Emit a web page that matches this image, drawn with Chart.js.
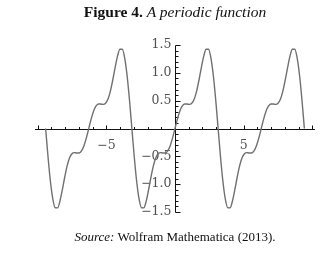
<!DOCTYPE html>
<html><head><meta charset="utf-8">
<script src="https://cdn.jsdelivr.net/npm/chart.js@4/dist/chart.umd.min.js"></script>
<style>
html,body{margin:0;padding:0;background:#fff;width:335px;height:255px;overflow:hidden}
#wrap{position:relative;width:335px;height:255px}
canvas{position:absolute;left:0;top:0}
.t{position:absolute;white-space:nowrap;font-family:"Liberation Serif",serif;color:#111;transform:translateX(-50%);line-height:1}
</style></head><body>
<div id="wrap">
<canvas id="c" width="335" height="255"></canvas>
<div class="t" style="left:175px;top:4px;font-size:15.5px"><b>Figure 4.</b> <i>A periodic function</i></div>
<div class="t" style="left:175px;top:230px;font-size:13px"><i>Source:</i> Wolfram Mathematica (2013).</div>
</div>
<script>
// x sample positions (radians)
const xValues = [
-9.425,-9.250,-9.076,-8.901,-8.727,-8.552,-8.378,-8.203,-8.029,-7.854,-7.679,-7.505,-7.330,-7.156,-6.981,-6.807,-6.632,-6.458,
-6.283,-6.109,-5.934,-5.760,-5.585,-5.411,-5.236,-5.061,-4.887,-4.712,-4.538,-4.363,-4.189,-4.014,-3.840,-3.665,-3.491,-3.316,
-3.142,-2.967,-2.793,-2.618,-2.443,-2.269,-2.094,-1.920,-1.745,-1.571,-1.396,-1.222,-1.047,-0.873,-0.698,-0.524,-0.349,-0.175,
0,0.175,0.349,0.524,0.698,0.873,1.047,1.222,1.396,1.571,1.745,1.920,2.094,2.269,2.443,2.618,2.793,2.967,
3.142,3.316,3.491,3.665,3.840,4.014,4.189,4.363,4.538,4.712,4.887,5.061,5.236,5.411,5.585,5.760,5.934,6.109,
6.283,6.458,6.632,6.807,6.981,7.156,7.330,7.505,7.679,7.854,8.029,8.203,8.378,8.552,8.727,8.901,9.076,9.250,9.425
];
// function values
const yValues = [
0,-0.511,-0.952,-1.266,-1.424,-1.425,-1.299,-1.094,-0.867,-0.667,-0.525,-0.452,-0.433,-0.440,-0.439,-0.400,-0.309,-0.169,
0,0.169,0.309,0.400,0.439,0.440,0.433,0.452,0.525,0.667,0.867,1.094,1.299,1.425,1.424,1.266,0.952,0.511,
0,-0.511,-0.952,-1.266,-1.424,-1.425,-1.299,-1.094,-0.867,-0.667,-0.525,-0.452,-0.433,-0.440,-0.439,-0.400,-0.309,-0.169,
0,0.169,0.309,0.400,0.439,0.440,0.433,0.452,0.525,0.667,0.867,1.094,1.299,1.425,1.424,1.266,0.952,0.511,
0,-0.511,-0.952,-1.266,-1.424,-1.425,-1.299,-1.094,-0.867,-0.667,-0.525,-0.452,-0.433,-0.440,-0.439,-0.400,-0.309,-0.169,
0,0.169,0.309,0.400,0.439,0.440,0.433,0.452,0.525,0.667,0.867,1.094,1.299,1.425,1.424,1.266,0.952,0.511,0
];
const xTickValues = [-5, 5];
const xTickLabels = ['\u22125', '5'];
const yTickValues = [-1.5, -1.0, -0.5, 0.5, 1.0, 1.5];
const yTickLabels = ['\u22121.5', '\u22121.0', '\u22120.5', '0.5', '1.0', '1.5'];

const axisDeco = {
  id: 'axisDeco',
  beforeDatasetsDraw(chart) {
    const ctx = chart.ctx, xs = chart.scales.x, ys = chart.scales.y, a = chart.chartArea;
    const x0 = Math.round(xs.getPixelForValue(0)) + 0.5;
    const y0 = Math.round(ys.getPixelForValue(0)) + 0.5;
    const line = (x1, y1, x2, y2) => { ctx.beginPath(); ctx.moveTo(x1, y1); ctx.lineTo(x2, y2); ctx.stroke(); };
    ctx.save();
    ctx.strokeStyle = '#111'; ctx.lineWidth = 1;
    line(a.left, y0, a.right, y0);
    line(x0, Math.round(a.top) + 0.5, x0, Math.round(a.bottom) + 0.5);
    for (let i = -15; i <= 15; i++) {
      if (i === 0) continue;
      const py = Math.round(ys.getPixelForValue(i / 10)) + 0.5;
      line(x0, py, x0 + (i % 5 === 0 ? 5 : 3), py);
    }
    for (let i = Math.ceil(xs.min); i <= Math.floor(xs.max); i++) {
      if (i === 0) continue;
      const px = Math.round(xs.getPixelForValue(i)) + 0.5;
      line(px, y0, px, y0 - (i % 5 === 0 ? 4 : 2.5));
    }
    ctx.fillStyle = '#505050';
    ctx.font = '12.5px "DejaVu Serif"';
    ctx.textAlign = 'right'; ctx.textBaseline = 'middle';
    ys.ticks.forEach(t => ctx.fillText(t.label, x0 - 4, ys.getPixelForValue(t.value)));
    ctx.textAlign = 'center';
    xs.ticks.forEach(t => ctx.fillText(t.label, xs.getPixelForValue(t.value), y0 + 16));
    ctx.restore();
  }
};

new Chart(document.getElementById('c'), {
  type: 'line',
  data: {
    datasets: [{
      data: xValues.map((x, i) => ({x: x, y: yValues[i]})),
      borderColor: '#707070',
      borderWidth: 1.4,
      pointRadius: 0,
      cubicInterpolationMode: 'monotone',
      fill: false
    }]
  },
  options: {
    responsive: false,
    animation: false,
    events: [],
    layout: {padding: {left: 35, right: 20, top: 45, bottom: 43}},
    plugins: {legend: {display: false}, tooltip: {enabled: false}, title: {display: false}},
    scales: {
      x: {
        type: 'linear', min: -10.2, max: 10.2, position: {y: 0},
        grid: {display: false}, border: {display: false},
        afterBuildTicks: s => { s.ticks = xTickValues.map(v => ({value: v})); },
        ticks: {display: false, callback: (v, i) => xTickLabels[i]}
      },
      y: {
        type: 'linear', min: -1.5, max: 1.5, position: {x: 0},
        grid: {display: false}, border: {display: false},
        afterBuildTicks: s => { s.ticks = yTickValues.map(v => ({value: v})); },
        ticks: {display: false, callback: (v, i) => yTickLabels[i]}
      }
    }
  },
  plugins: [axisDeco]
});
</script>
</body></html>
